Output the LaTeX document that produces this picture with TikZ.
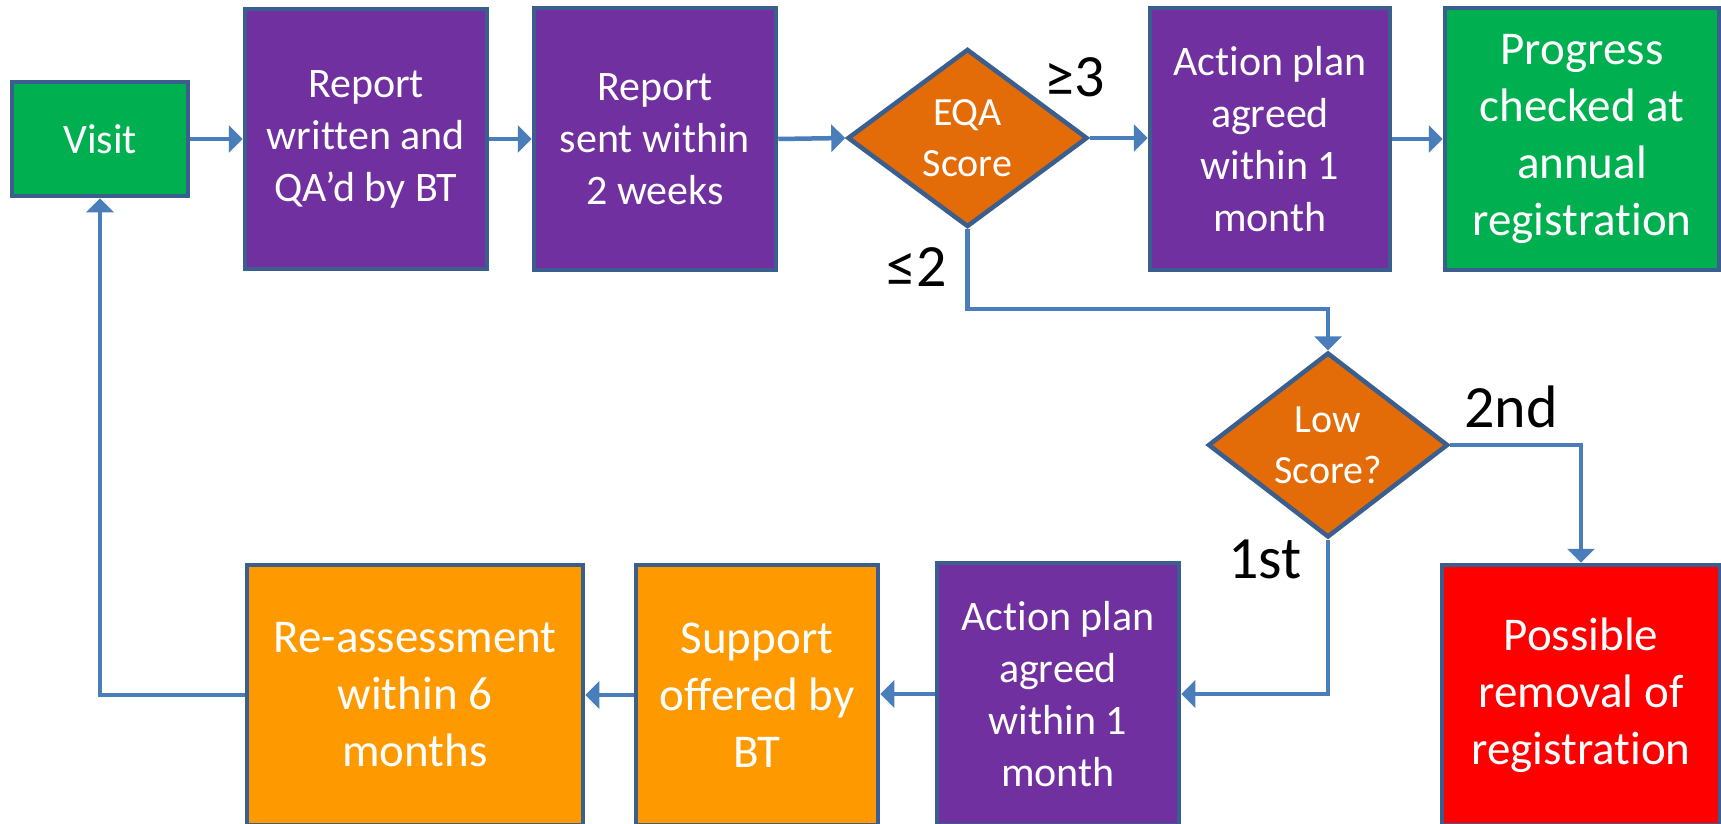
\documentclass[tikz,border=0pt]{standalone}
\usepackage{fontspec}
\setmainfont{Carlito}[RawFeature={-liga;-clig;-calt;-dlig}]
\usetikzlibrary{shapes.geometric,arrows.meta}
\definecolor{cpurple}{HTML}{7030A0}
\definecolor{cgreen}{HTML}{00B050}
\definecolor{cdorange}{HTML}{E36C09}
\definecolor{corange}{HTML}{FF9900}
\definecolor{cred}{HTML}{FF0000}
\definecolor{cborder}{HTML}{3A5F8E}
\definecolor{carrow}{HTML}{4A7EBB}
\tikzset{
  box/.style={draw=cborder, line width=4.5pt, rectangle, text=white, align=center, inner sep=0pt,
    font=\fontsize{42}{52}\selectfont},
  bigbox/.style={box, font=\fontsize{47}{57}\selectfont},
  dia/.style={draw=cborder, line width=4.5pt, diamond, fill=cdorange, text=white, align=center,
    inner sep=0pt, minimum width=240pt, minimum height=178pt, font=\fontsize{40}{51}\selectfont},
  arr/.style={draw=carrow, line width=4.5pt, -{Triangle[length=14pt,width=27pt]}},
  lbl/.style={text=black, inner sep=0pt, font=\fontsize{60}{70}\selectfont}
}
\begin{document}
\begin{tikzpicture}[x=1pt,y=-1pt]
\useasboundingbox (0,0) rectangle (1721,824);
\clip (0,0) rectangle (1721,824);
\fill[white] (0,0) rectangle (1721,824);
% top row
\node[box, fill=cgreen, minimum width=176pt, minimum height=114pt] (visit) at (100,139) {Visit};
\node[box, fill=cpurple, minimum width=242pt, minimum height=260pt] (rw) at (366,139) {\raisebox{-4pt}{\parbox{240pt}{\centering Report\\written and\\QA’d by BT}}};
\node[box, fill=cpurple, minimum width=242pt, minimum height=262pt] (rs) at (655,139) {\raisebox{-4pt}{\parbox{240pt}{\centering Report\\sent within\\2 weeks}}};
\node[dia] (eqa) at (967.5,138) {EQA\\Score};
\node[box, fill=cpurple, minimum width=240pt, minimum height=262pt] (ap1) at (1270,139) {Action plan\\agreed\\within 1\\month};
\node[bigbox, fill=cgreen, minimum width=274pt, minimum height=262pt] (prog) at (1582,139) {Progress\\checked at\\annual\\registration};
% middle
\node[dia] (low) at (1328,445) {Low\\Score?};
% bottom row
\node[bigbox, fill=cred, minimum width=278pt, minimum height=260pt] (rem) at (1581,695) {Possible\\removal of\\registration};
\node[box, fill=cpurple, minimum width=242pt, minimum height=262pt] (ap2) at (1058,694) {Action plan\\agreed\\within 1\\month};
\node[bigbox, fill=corange, minimum width=242pt, minimum height=260pt] (sup) at (757,695) {Support\\offered by\\BT};
\node[bigbox, fill=corange, minimum width=336pt, minimum height=260pt] (reas) at (415,695) {Re-assessment\\within 6\\months};
% labels
\node[lbl] (l3) at (1075,77) {≥3};
\node[lbl] (l2) at (917,267) {≤2};
\node[lbl] (l2nd) at (1511,407) {2nd};
\node[lbl] (l1st) at (1265,559) {1st};
% connectors
\coordinate (k1) at (1328,309);
\draw[arr] (visit.east) -- (rw.west |- visit.east);
\draw[arr] (rw.east |- 0,139) -- (rs.west |- 0,139);
\draw[arr] (rs.east |- 0,139) -- (eqa.west);
\draw[arr] (eqa.east) -- (ap1.west |- eqa.east);
\draw[arr] (ap1.east |- 0,139) -- (prog.west |- 0,139);
\draw[arr] (eqa.south) |- (k1) -- (low.north);
\draw[arr] (low.east) -| (rem.north);
\draw[arr] (low.south) |- (ap2.east);
\draw[arr] (ap2.west) -- (sup.east |- ap2.west);
\draw[arr] (sup.west) -- (reas.east |- sup.west);
\draw[arr] (reas.west) -| (visit.south);
\end{tikzpicture}
\end{document}
